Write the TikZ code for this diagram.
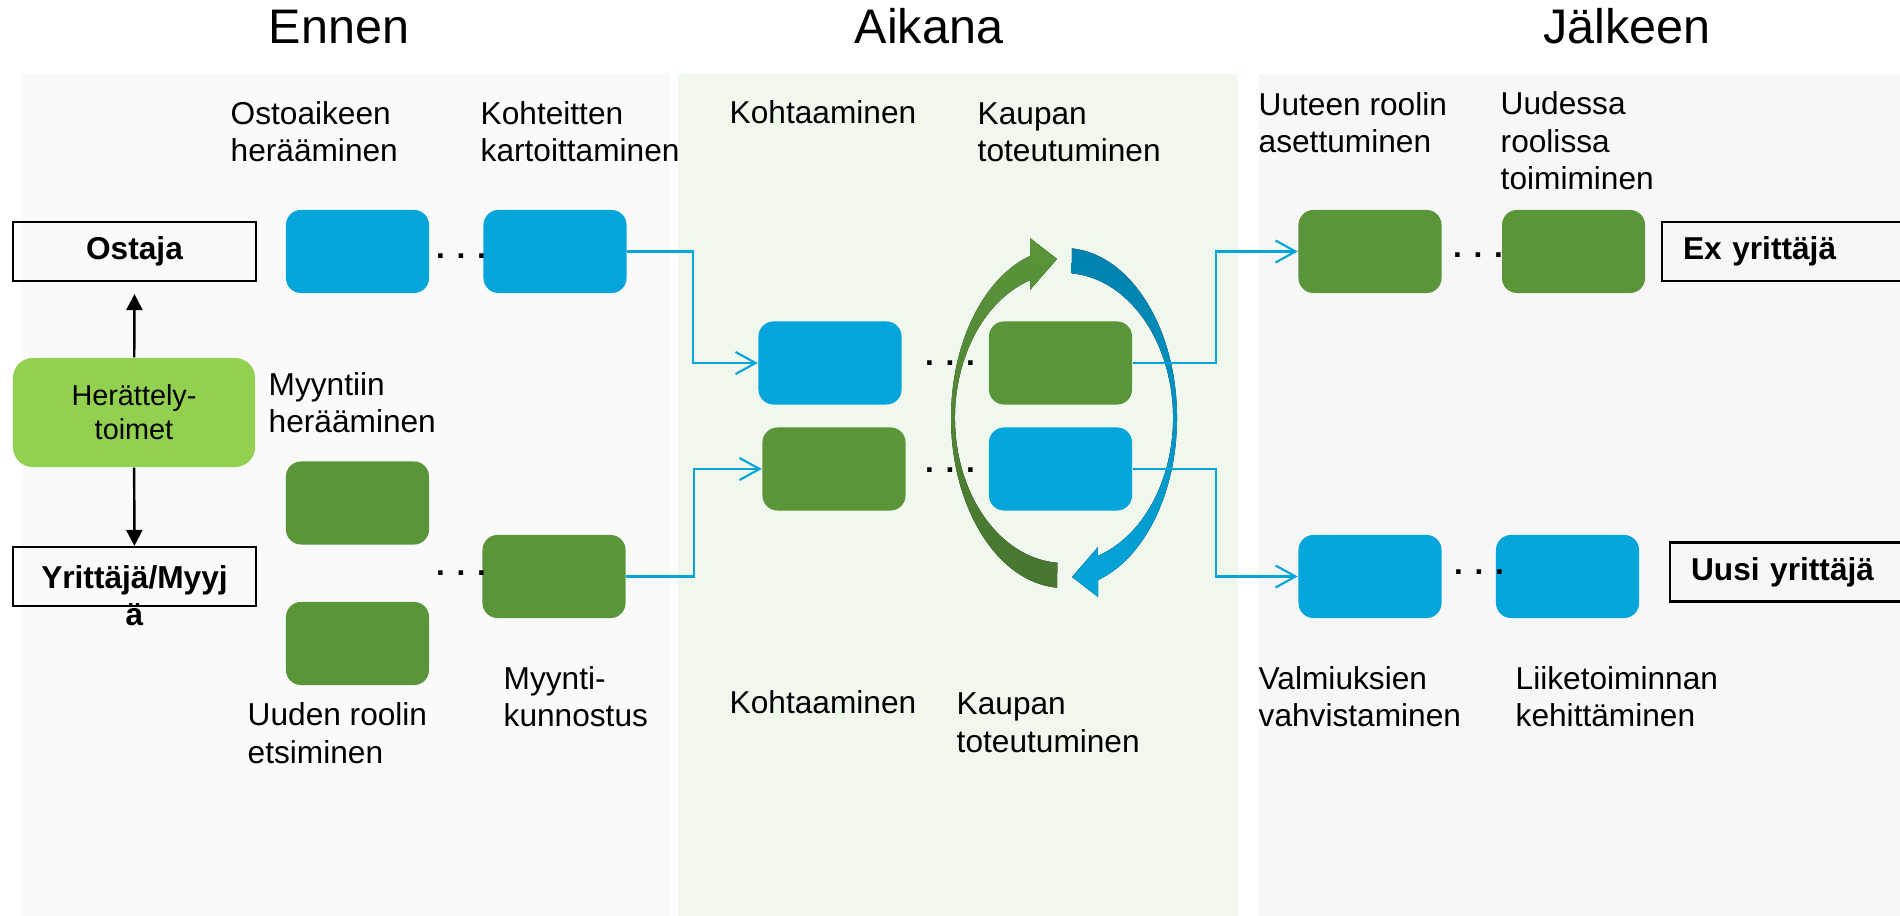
\documentclass[tikz,border=0pt]{standalone}
\usepackage{fontspec}
\setmainfont{Liberation Sans}
\usetikzlibrary{arrows.meta,positioning,calc}

\definecolor{boxblue}{HTML}{03A5DB}
\definecolor{boxgreen}{HTML}{5A9539}
\definecolor{lightgreen}{HTML}{92D050}
\definecolor{arcblue}{HTML}{0082AD}
\definecolor{arcgreen}{HTML}{477530}
\definecolor{panelA}{HTML}{FAFAFA}
\definecolor{panelB}{HTML}{F0F7EC}
\definecolor{panelC}{HTML}{F7F7F7}

\begin{document}
\begin{tikzpicture}[x=0.01cm, y=-0.01cm,
  bluebox/.style={rectangle, rounded corners=0.15cm, fill=boxblue, minimum width=1.43cm, minimum height=0.83cm, inner sep=0pt},
  greenbox/.style={bluebox, fill=boxgreen},
  rolebox/.style={draw, line width=0.6pt, minimum height=0.59cm, inner sep=0pt, font=\bfseries\fontsize{9}{10.8}\selectfont},
  lbl/.style={anchor=base west, align=left, inner sep=0pt, font=\fontsize{9}{10.8}\selectfont},
  phase/.style={anchor=base, inner sep=0pt, font=\fontsize{13.8}{16}\selectfont},
  dots/.style={inner sep=0pt, font=\bfseries\fontsize{9}{10.8}\selectfont},
  flow/.style={draw=boxblue, line width=0.6pt, >={Straight Barb[length=0.2cm, width=0.22cm]}},
  link/.style={line width=0.7pt, >={Triangle[length=0.16cm, width=0.16cm]}}]
\useasboundingbox (0,0) rectangle (1900,916);
\clip (0,0) rectangle (1900,916);

% taustat
\fill[panelA] (22,74) rectangle (670,916);
\fill[panelB] (678,74) rectangle (1238,916);
\fill[panelC] (1259,74) rectangle (1900,916);

% vaiheet
\node[phase] (ennen) at (339,44) {Ennen};
\node[phase] (aikana) at (929,44) {Aikana};
\node[phase] (jalkeen) at (1627,44) {Jälkeen};

% kiertonuolet
\fill[top color=boxgreen, bottom color=arcgreen]
  (1057.1,587.7) arc[start angle=93.5, end angle=252.5, x radius=113, y radius=170]
  -- (1030,238) -- (1057,259) -- (1030,290) -- (1030.3,280.1)
  arc[start angle=252, end angle=93.5, x radius=109, y radius=145] -- cycle;
\fill[top color=arcblue, bottom color=boxblue]
  (1071.9,248.4) arc[start angle=274, end angle=432.5, x radius=113, y radius=170]
  -- (1098,597) -- (1072,577) -- (1098,547) -- (1097.7,555.9)
  arc[start angle=432, end angle=274, x radius=109, y radius=145] -- cycle;

% osapuolet
\node[rolebox, minimum width=2.43cm] (ostaja) at (134.5,251.5) {Ostaja};
\node[rectangle, rounded corners=0.2cm, fill=lightgreen, minimum width=2.42cm, minimum height=1.09cm, align=center, font=\fontsize{8.2}{9.7}\selectfont] (herate) at (134,412.5) {Herättely-\\toimet};
\node[rolebox, minimum width=2.43cm] (myyja) at (134.5,576.5) {\raisebox{-1.15mm}[0pt][0pt]{\begin{tabular}[t]{@{}c@{}}Yrittäjä/Myyj\\ä\end{tabular}}};
\node[rolebox, anchor=west, text width=2.08cm, inner xsep=0.21cm, align=left] (exyr) at (1661,251.5) {Ex yrittäjä};
\node[rolebox, anchor=west, text width=2.1cm, inner xsep=0.21cm, align=left] (uusi) at (1669,572) {Uusi yrittäjä};

% ennen
\node[bluebox] (osto) at (357.5,251.5) {};
\node[bluebox, right=0.53cm of osto] (kohde) {};
\node[greenbox] (myynti) at (357.5,503) {};
\node[greenbox] (rooli) at (357.5,643.5) {};
\node[greenbox] (kunto) at (554,576.5) {};

% aikana
\node[bluebox] (kohtaB) at (830,363) {};
\node[greenbox] (kohtaG) at (834,469) {};
\node[greenbox] (kauppaG) at (1060.5,363) {};
\node[bluebox] (kauppaB) at (1060.5,469) {};

% jalkeen
\node[greenbox] (asetu) at (1370,251.5) {};
\node[greenbox, right=0.59cm of asetu] (toimi) {};
\node[bluebox] (valmi) at (1370,576.5) {};
\node[bluebox, right=0.53cm of valmi] (kehit) {};

% pisteet
\node[dots] (d1) at (461,256) {. . .};
\node[dots] (d2) at (461,573) {. . .};
\node[dots] (d3) at (950,363) {. . .};
\node[dots] (d4) at (950,470) {. . .};
\node[dots] (d5) at (1478,255) {. . .};
\node[dots] (d6) at (1479,572) {. . .};

% tekstit (viimeisen rivin perusviiva)
\node[lbl] (l1) at (230,162) {Ostoaikeen\\herääminen};
\node[lbl] (l2) at (480,162) {Kohteitten\\kartoittaminen};
\node[lbl] (l3) at (729,124) {Kohtaaminen};
\node[lbl] (l4) at (977,162) {Kaupan\\toteutuminen};
\node[lbl] (l5) at (1258,153) {Uuteen roolin\\asettuminen};
\node[lbl] (l6) at (1500,190) {Uudessa\\roolissa\\toimiminen};
\node[lbl] (l7) at (268,433) {Myyntiin\\herääminen};
\node[lbl] (l8) at (247,763) {Uuden roolin\\etsiminen};
\node[lbl] (l9) at (503,727) {Myynti-\\kunnostus};
\node[lbl] (l10) at (729,713) {Kohtaaminen};
\node[lbl] (l11) at (956,752) {Kaupan\\toteutuminen};
\node[lbl] (l12) at (1258,727) {Valmiuksien\\vahvistaminen};
\node[lbl] (l13) at (1515,727) {Liiketoiminnan\\kehittäminen};

% yhteydet
\draw[->, link] (herate) -- ([yshift=-1.2mm]ostaja.south);
\draw[->, link] (herate) -- (myyja);
\draw[->, flow] (kohde.east) -- ++(66,0) |- (kohtaB.west);
\draw[->, flow] (kunto.east) -- ++(68,0) |- (kohtaG.west);
\draw[->, flow] (kauppaG.east) -- ++(83,0) |- (asetu.west);
\draw[->, flow] (kauppaB.east) -- ++(83,0) |- (valmi.west);
\end{tikzpicture}
\end{document}
